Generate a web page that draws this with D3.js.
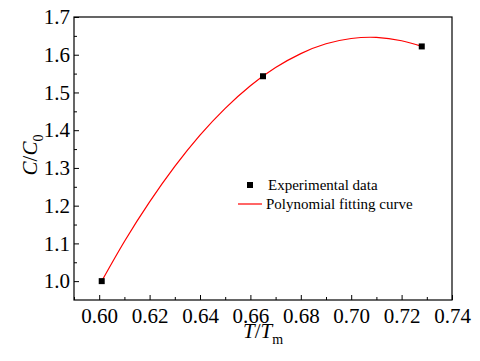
<!DOCTYPE html>
<html>
<head>
<meta charset="utf-8">
<script src="https://cdn.jsdelivr.net/npm/d3@7"></script>
<style>
  body { margin: 0; background: #fff; }
  svg text { font-family: "Liberation Serif", "Times New Roman", serif; fill: #000; }
  .tick text { font-size: 21px; }
</style>
</head>
<body>
<div id="chart"></div>
<script>
// data
const expX = [0.601, 0.665, 0.728]
const expY = [1.000, 1.543, 1.622]

// polynomial fitting curve
const fitX = [0.601, 0.61, 0.62, 0.63, 0.64, 0.65, 0.66, 0.67, 0.68, 0.69, 0.70, 0.71, 0.72, 0.728]
const fitY = [1.000, 1.105, 1.210, 1.304, 1.387, 1.458, 1.518, 1.566, 1.603, 1.629, 1.643, 1.646, 1.637, 1.622]

const xTicks = [0.60, 0.62, 0.64, 0.66, 0.68, 0.70, 0.72, 0.74]
const xMinor = [0.59, 0.61, 0.63, 0.65, 0.67, 0.69, 0.71, 0.73]
const yTicks = [1.0, 1.1, 1.2, 1.3, 1.4, 1.5, 1.6, 1.7]
const yMinor = [1.05, 1.15, 1.25, 1.35, 1.45, 1.55, 1.65]

const legendLabels = ["Experimental data", "Polynomial fitting curve"]

const width = 480
const height = 361
const margin = { top: 17, right: 28, bottom: 61, left: 74 }
const serif = "Liberation Serif, serif"

const svg = d3.select("div#chart").append("svg").attr("width", width).attr("height", height)
    .attr("font-family", serif)

const x = d3.scaleLinear().domain([0.59, 0.74]).range([margin.left, width - margin.right])
const y = d3.scaleLinear().domain([0.95, 1.7]).range([height - margin.bottom, margin.top])

// frame
svg.append("rect")
    .attr("x", margin.left).attr("y", margin.top)
    .attr("width", width - margin.left - margin.right)
    .attr("height", height - margin.top - margin.bottom)
    .attr("fill", "none").attr("stroke", "#000").attr("stroke-width", 1.2)

// x axis (ticks inside)
const xAxisG = svg.append("g").attr("transform", `translate(0,${height - margin.bottom})`)
xAxisG.call(d3.axisBottom(x).tickValues(xTicks).tickFormat(d3.format(".2f")).tickSizeInner(-5).tickSizeOuter(0).tickPadding(8))
xAxisG.append("g").call(d3.axisBottom(x).tickValues(xMinor).tickFormat("").tickSizeInner(-3).tickSizeOuter(0))
xAxisG.selectAll(".domain").remove()

// y axis
const yAxisG = svg.append("g").attr("transform", `translate(${margin.left},0)`)
yAxisG.call(d3.axisLeft(y).tickValues(yTicks).tickFormat(d3.format(".1f")).tickSizeInner(-5).tickSizeOuter(0).tickPadding(4))
yAxisG.append("g").call(d3.axisLeft(y).tickValues(yMinor).tickFormat("").tickSizeInner(-3).tickSizeOuter(0))
yAxisG.selectAll(".domain").remove()

svg.selectAll(".tick text")
    .attr("font-size", 21).attr("font-family", serif)
    .style("font-size", "21px").style("font-family", serif)

// axis titles
const xTitle = svg.append("text")
    .attr("x", 263)
    .attr("y", 338)
    .attr("text-anchor", "middle")
    .attr("font-size", 21)
xTitle.append("tspan").style("font-style", "italic").text("T")
xTitle.append("tspan").text("/")
xTitle.append("tspan").style("font-style", "italic").text("T")
xTitle.append("tspan").attr("dy", 6).attr("font-size", 14).text("m")

const yTitle = svg.append("text")
    .attr("transform", "translate(37,155) rotate(-90)")
    .attr("text-anchor", "middle")
    .attr("font-size", 21)
yTitle.append("tspan").style("font-style", "italic").text("C")
yTitle.append("tspan").text("/")
yTitle.append("tspan").style("font-style", "italic").text("C")
yTitle.append("tspan").attr("dy", 6).attr("font-size", 14).text("0")

// fitted curve
const line = d3.line().x(d => x(d[0])).y(d => y(d[1])).curve(d3.curveNatural)
svg.append("path")
    .datum(fitX.map((v, i) => [v, fitY[i]]))
    .attr("d", line)
    .attr("fill", "none").attr("stroke", "#ff0000").attr("stroke-width", 1.2)

// experimental points
svg.selectAll("rect.pt").data(expX.map((v, i) => [v, expY[i]])).enter()
    .append("rect").attr("class", "pt")
    .attr("x", d => x(d[0]) - 3).attr("y", d => y(d[1]) - 3)
    .attr("width", 6).attr("height", 6)
    .attr("fill", "#000")

// legend
const legend = svg.append("g").attr("transform", "translate(250,185)").attr("font-size", 15)
legend.append("rect").attr("x", -3).attr("y", -3).attr("width", 6).attr("height", 6).attr("fill", "#000")
legend.append("text").attr("x", 18).attr("y", 5).text(legendLabels[0])
legend.append("line").attr("x1", -12).attr("x2", 12).attr("y1", 19).attr("y2", 19)
    .attr("stroke", "#ff0000").attr("stroke-width", 1.2)
legend.append("text").attr("x", 16).attr("y", 24).text(legendLabels[1])
</script>
</body>
</html>
